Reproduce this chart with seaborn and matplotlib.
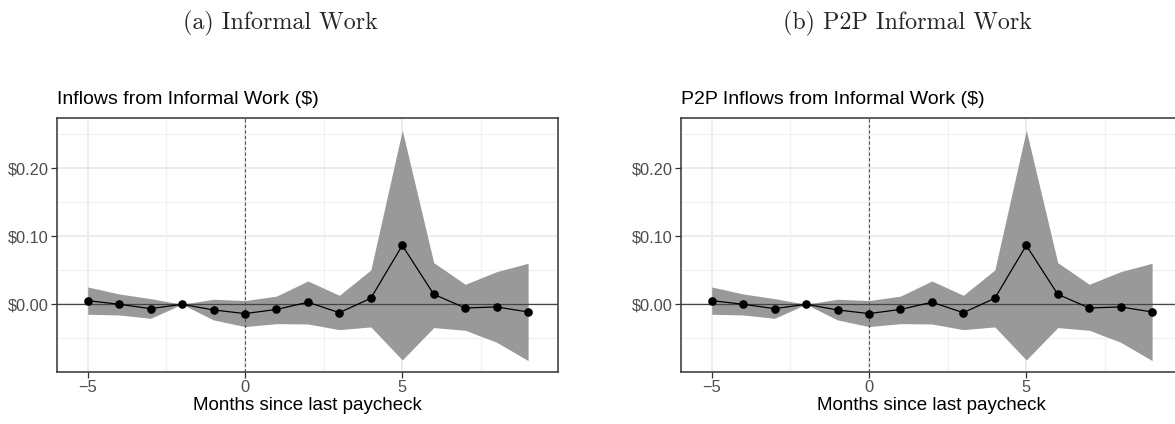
import numpy as np
import pandas as pd
import matplotlib
matplotlib.use("Agg")
import matplotlib.pyplot as plt
from matplotlib.ticker import FixedLocator, FuncFormatter
import seaborn as sns

# ---------------- data ----------------
months = [-5, -4, -3, -2, -1, 0, 1, 2, 3, 4, 5, 6, 7, 8, 9]

inf_coef = [0.0054, 0.0000, -0.0064, 0.0000, -0.0083, -0.0137, -0.0076, 0.0030, -0.0123, 0.0088, 0.0866, 0.0147, -0.0054, -0.0039, -0.0113]
inf_upper = [0.0255, 0.0152, 0.0083, 0.0000, 0.0074, 0.0054, 0.0120, 0.0343, 0.0132, 0.0505, 0.2560, 0.0613, 0.0294, 0.0480, 0.0603]
inf_lower = [-0.0147, -0.0157, -0.0206, 0.0000, -0.0230, -0.0328, -0.0285, -0.0290, -0.0373, -0.0333, -0.0819, -0.0343, -0.0382, -0.0559, -0.0828]

p2p_coef = [0.0054, 0.0000, -0.0064, 0.0000, -0.0083, -0.0137, -0.0076, 0.0030, -0.0123, 0.0088, 0.0866, 0.0147, -0.0054, -0.0039, -0.0113]
p2p_upper = [0.0255, 0.0152, 0.0083, 0.0000, 0.0074, 0.0054, 0.0120, 0.0343, 0.0132, 0.0505, 0.2560, 0.0613, 0.0294, 0.0480, 0.0603]
p2p_lower = [-0.0147, -0.0157, -0.0206, 0.0000, -0.0230, -0.0328, -0.0285, -0.0290, -0.0373, -0.0333, -0.0819, -0.0343, -0.0382, -0.0559, -0.0828]

captions = ["(a) Informal Work", "(b) P2P Informal Work"]
titles = ["Inflows from Informal Work (\\$)", "P2P Inflows from Informal Work (\\$)"]
xlabel = "Months since last paycheck"
x_major = [-5, 0, 5]
x_minor = [-2.5, 2.5, 7.5]
y_major = [0.0, 0.10, 0.20]
y_minor = [-0.05, 0.05, 0.15, 0.25]

# ---------------- style ----------------
sns.set_theme(style="white")
plt.rcParams["font.family"] = ["Liberation Sans", "DejaVu Sans"]

W, H = 1175, 424
fig = plt.figure(figsize=(W / 100, H / 100), dpi=100)

def px_axes(x0, x1, y0, y1):
    return fig.add_axes([x0 / W, 1 - y1 / H, (x1 - x0) / W, (y1 - y0) / H])

axes = [px_axes(57, 558, 118, 372), px_axes(681, 1182, 118, 372)]
datasets = [(inf_coef, inf_upper, inf_lower), (p2p_coef, p2p_upper, p2p_lower)]
cap_x = [280, 907]

for ax, (coef, up, lo), title, cap, cx in zip(axes, datasets, titles, captions, cap_x):
    df = pd.DataFrame({"month": months, "coef": coef, "upper": up, "lower": lo})
    ax.set_xlim(-5.975, 9.95)
    ax.set_ylim(-0.0996, 0.274)

    # grid
    ax.xaxis.set_major_locator(FixedLocator(x_major))
    ax.xaxis.set_minor_locator(FixedLocator(x_minor))
    ax.yaxis.set_major_locator(FixedLocator(y_major))
    ax.yaxis.set_minor_locator(FixedLocator(y_minor))
    ax.grid(True, which="major", color="#EBEBEB", linewidth=1.3)
    ax.grid(True, which="minor", color="#F1F1F1", linewidth=0.9)
    ax.set_axisbelow(True)

    ax.fill_between(df["month"], df["lower"], df["upper"], color="#999999", linewidth=0, zorder=2)
    ax.axhline(0, color="#444444", linewidth=0.9, zorder=3)
    ax.axvline(0, color="#555555", linewidth=0.8, linestyle=(0, (3, 2)), zorder=3)
    sns.lineplot(data=df, x="month", y="coef", ax=ax, color="black", linewidth=0.9,
                 marker="o", markersize=6.2, markeredgewidth=0, zorder=4)

    ax.yaxis.set_major_formatter(FuncFormatter(lambda v, p: "\\$%.2f" % v))
    ax.tick_params(axis="both", which="major", length=4, width=0.9, color="#333333",
                   labelsize=11.8, labelcolor="#4D4D4D", pad=2, bottom=True, left=True)
    ax.tick_params(axis="both", which="minor", length=0)
    for s in ax.spines.values():
        s.set_color("#333333")
        s.set_linewidth(1.1)

    ax.set_xlabel(xlabel, fontsize=13.5, color="black", labelpad=1.5)
    ax.set_ylabel("")
    ax.set_title(title, loc="left", fontsize=14, pad=10, color="black")

    fig.text(cx / W, 1 - 29 / H, cap, ha="center", va="baseline", fontsize=17.3,
             family="cmr10")

fig.savefig("out.png", dpi=100)
